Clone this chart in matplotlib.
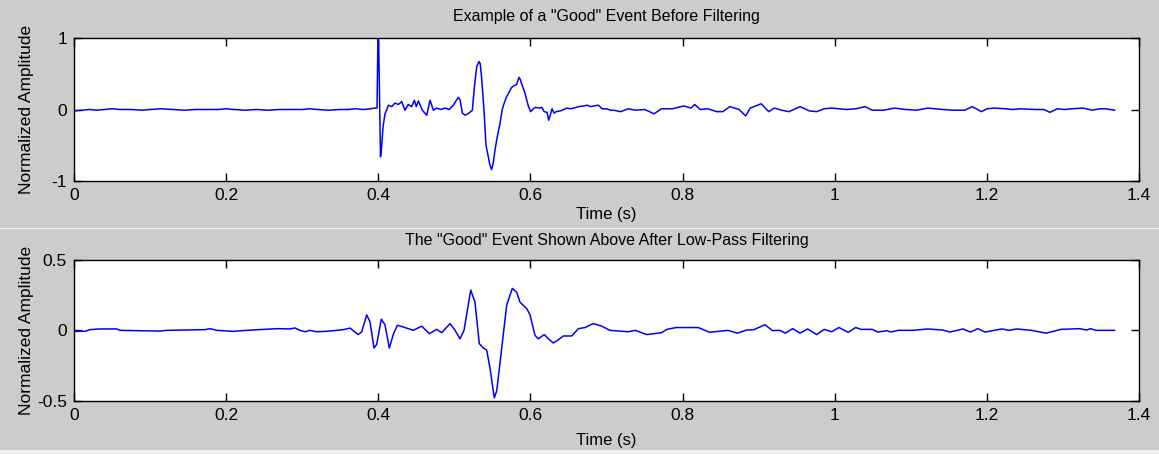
import matplotlib
matplotlib.use("Agg")
import matplotlib.pyplot as plt
from matplotlib.patches import Rectangle

plt.rcParams['font.family'] = ['Liberation Sans', 'DejaVu Sans']

# raw event
t_raw = [0.000, 0.010, 0.020, 0.030, 0.040, 0.050, 0.060, 0.075, 0.090, 0.100,
         0.115, 0.130, 0.145, 0.160, 0.175, 0.190, 0.200, 0.210, 0.225, 0.240,
         0.255, 0.270, 0.285, 0.300, 0.310, 0.320, 0.335, 0.350, 0.360, 0.370,
         0.380, 0.390, 0.395, 0.3983, 0.3996, 0.4005, 0.4016, 0.4029, 0.4042, 0.4062,
         0.4088, 0.4111, 0.4132, 0.4176, 0.4220, 0.4263, 0.4308, 0.4351, 0.4395, 0.4439,
         0.4474, 0.4500, 0.4527, 0.4579, 0.4637, 0.4680, 0.4724, 0.4768, 0.4820, 0.4877,
         0.4930, 0.4986, 0.5052, 0.5074, 0.5105, 0.5140, 0.5193, 0.5236, 0.5262, 0.5294,
         0.5324, 0.5340, 0.5357, 0.5389, 0.5416, 0.5446, 0.5468, 0.5490, 0.5511, 0.5534,
         0.5564, 0.5599, 0.5630, 0.5652, 0.5687, 0.5709, 0.5753, 0.5797, 0.5819, 0.5849,
         0.5866, 0.5884, 0.5928, 0.5972, 0.6002, 0.6037, 0.6067, 0.6115, 0.6150, 0.6180,
         0.6219, 0.6240, 0.6266, 0.6284, 0.6310, 0.6341, 0.6393, 0.6437, 0.6481, 0.6525,
         0.6569, 0.6635, 0.6700, 0.6749, 0.6788, 0.6832, 0.6895, 0.6942, 0.7007, 0.7051,
         0.7090, 0.7187, 0.7284, 0.7381, 0.7503, 0.7625, 0.7722, 0.7868, 0.8014, 0.8111,
         0.8159, 0.8232, 0.8329, 0.8451, 0.8530, 0.8621, 0.8743, 0.8830, 0.8889, 0.8962,
         0.9035, 0.9132, 0.9205, 0.9302, 0.9399, 0.9545, 0.9667, 0.9764, 0.9860, 0.9959,
         1.0060, 1.0154, 1.0280, 1.0397, 1.0494, 1.0640, 1.0786, 1.0932, 1.1078, 1.1224,
         1.1318, 1.1418, 1.1564, 1.1710, 1.1808, 1.1929, 1.2002, 1.2099, 1.2245, 1.2340,
         1.2440, 1.2634, 1.2750, 1.2828, 1.2926, 1.3020, 1.3120, 1.3266, 1.3388, 1.3480,
         1.3559, 1.3680]
a_raw = [-0.02, -0.01, 0.00, -0.01, 0.00, 0.01, 0.00, 0.00, -0.01, 0.00,
         0.01, 0.00, -0.01, 0.00, 0.00, 0.00, 0.01, 0.00, -0.01, 0.00,
         -0.01, 0.00, 0.00, 0.00, 0.01, 0.00, -0.01, 0.00, 0.00, 0.01,
         0.00, 0.01, 0.02, 0.02, 1.00, 0.95, 0.20, -0.66, -0.55, -0.25,
         -0.06, -0.01, 0.06, 0.04, 0.09, 0.07, 0.11, -0.01, 0.07, 0.04,
         0.13, 0.04, 0.12, -0.01, -0.08, 0.13, -0.01, 0.02, 0.00, 0.02,
         0.00, 0.06, 0.17, 0.14, -0.05, -0.08, -0.05, -0.01, 0.30, 0.60,
         0.67, 0.64, 0.46, 0.00, -0.50, -0.66, -0.78, -0.84, -0.75, -0.57,
         -0.38, -0.20, 0.00, 0.08, 0.18, 0.22, 0.31, 0.34, 0.35, 0.45,
         0.42, 0.36, 0.23, 0.05, -0.03, 0.01, 0.03, 0.02, 0.03, -0.03,
         -0.04, -0.15, -0.06, 0.01, -0.05, -0.03, -0.02, 0.00, 0.02, 0.01,
         0.02, 0.04, 0.05, 0.06, 0.04, 0.05, 0.06, 0.01, 0.01, -0.01,
         -0.01, -0.03, 0.01, -0.01, 0.00, -0.06, 0.01, 0.01, 0.05, 0.02,
         0.07, 0.00, 0.01, -0.03, -0.03, 0.04, 0.00, -0.09, 0.02, 0.05,
         0.08, -0.03, 0.02, -0.01, -0.03, 0.04, -0.02, -0.03, 0.01, 0.02,
         0.01, 0.00, 0.01, 0.04, -0.01, -0.01, 0.02, 0.00, -0.01, 0.02,
         0.01, 0.00, -0.01, -0.01, 0.04, -0.03, 0.01, 0.02, 0.01, 0.00,
         0.01, 0.00, 0.00, -0.04, 0.01, 0.00, 0.01, 0.02, -0.01, 0.01,
         0.01, -0.01]

# the same event after low-pass filtering (lower panel)
t_lp = [0.000, 0.0145, 0.0210, 0.0342, 0.0561, 0.0605, 0.1131, 0.1218, 0.1722, 0.1788,
        0.1876, 0.2094, 0.2270, 0.2665, 0.2839, 0.2905, 0.2971, 0.3037, 0.3102, 0.3190,
        0.3322, 0.3540, 0.3628, 0.3737, 0.3782, 0.3848, 0.3891, 0.3944, 0.3979, 0.4040,
        0.4088, 0.4145, 0.4197, 0.4250, 0.4329, 0.4460, 0.4571, 0.4671, 0.4768, 0.4834,
        0.4943, 0.5009, 0.5074, 0.5127, 0.5215, 0.5271, 0.5328, 0.5381, 0.5425, 0.5469,
        0.5525, 0.5557, 0.5622, 0.5688, 0.5762, 0.5820, 0.5863, 0.5951, 0.5995, 0.6060,
        0.6104, 0.6182, 0.6235, 0.6301, 0.6359, 0.6432, 0.6543, 0.6630, 0.6718, 0.6826,
        0.6937, 0.7046, 0.7284, 0.7381, 0.7527, 0.7722, 0.7794, 0.7916, 0.8208, 0.8354,
        0.8597, 0.8719, 0.8841, 0.8938, 0.9084, 0.9181, 0.9278, 0.9351, 0.9448, 0.9545,
        0.9643, 0.9764, 0.9862, 0.9959, 1.0056, 1.0177, 1.0275, 1.0348, 1.0494, 1.0566,
        1.0688, 1.0737, 1.0834, 1.1029, 1.1224, 1.1418, 1.1516, 1.1685, 1.1783, 1.1880,
        1.1977, 1.2197, 1.2294, 1.2391, 1.2586, 1.2779, 1.2974, 1.3217, 1.3314, 1.3363,
        1.3435, 1.3680]
a_lp = [-0.007, -0.007, 0.005, 0.010, 0.010, 0.000, -0.005, 0.000, 0.005, 0.012,
        0.000, -0.007, 0.000, 0.012, 0.010, 0.017, 0.000, -0.010, 0.000, -0.010,
        -0.007, 0.005, 0.016, -0.030, -0.010, 0.110, 0.060, -0.126, -0.100, 0.079,
        0.040, -0.126, -0.030, 0.036, 0.024, 0.000, 0.030, -0.024, 0.007, -0.017,
        0.048, 0.000, -0.060, 0.000, 0.286, 0.200, -0.095, -0.126, -0.140, -0.270,
        -0.480, -0.430, -0.130, 0.180, 0.298, 0.270, 0.200, 0.155, 0.110, -0.036,
        -0.060, -0.030, -0.060, -0.090, -0.070, -0.040, -0.040, 0.012, 0.020, 0.048,
        0.030, 0.000, -0.010, 0.000, -0.030, -0.017, 0.007, 0.020, 0.020, -0.014,
        0.000, -0.020, 0.002, 0.005, 0.040, -0.002, 0.000, -0.020, 0.012, -0.020,
        0.010, -0.030, 0.007, -0.010, 0.020, -0.014, 0.020, 0.007, 0.007, -0.012,
        -0.002, -0.012, 0.000, 0.000, 0.010, 0.002, -0.012, 0.010, -0.012, 0.012,
        -0.012, 0.010, 0.000, 0.010, 0.000, -0.020, 0.007, 0.012, 0.002, 0.012,
        0.000, 0.000]

titles = ['Example of a "Good" Event Before Filtering',
          'The "Good" Event Shown Above After Low-Pass Filtering']
ylims = [(-1, 1), (-0.5, 0.5)]
yticks = [[-1, 0, 1], [-0.5, 0, 0.5]]
yticklabels = [['-1', '0', '1'], ['-0.5', '0', '0.5']]
xticks = [0, 0.2, 0.4, 0.6, 0.8, 1.0, 1.2, 1.4]
xticklabels = ['0', '0.2', '0.4', '0.6', '0.8', '1', '1.2', '1.4']

W, H = 1159, 454
fig = plt.figure(figsize=(W / 100, H / 100), dpi=100, facecolor='#cccccc')

# two stacked figure windows: light separator line and light strip at bottom
fig.add_artist(Rectangle((0, 1 - 229 / H), 1, 1.5 / H, transform=fig.transFigure,
                         facecolor='#f0f0f0', edgecolor='none'))
fig.add_artist(Rectangle((0, 0), 1, 4.5 / H, transform=fig.transFigure,
                         facecolor='#f0f0f0', edgecolor='none'))

boxes = [(74, 38, 1139, 181), (74, 260, 1139, 400.7)]
title_y = [17, 241]
xlabel_y = [215, 440]
series = [(t_raw, a_raw), (t_lp, a_lp)]

for i in range(2):
    x0, y0, x1, y1 = boxes[i]
    ax = fig.add_axes([x0 / W, 1 - y1 / H, (x1 - x0) / W, (y1 - y0) / H])
    t, a = series[i]
    ax.plot(t, a, color='#0000ff', lw=1.1)
    ax.set_xlim(0, 1.4)
    ax.set_ylim(*ylims[i])
    ax.set_xticks(xticks)
    ax.set_xticklabels(xticklabels)
    ax.set_yticks(yticks[i])
    ax.set_yticklabels(yticklabels[i])
    ax.tick_params(direction='in', length=6, width=1, top=True, right=True,
                   labelsize=12.5, pad=5, colors='black')
    for s in ax.spines.values():
        s.set_linewidth(1)
        s.set_color('black')
    ax.set_ylabel('Normalized Amplitude', fontsize=12.5)
    ax.yaxis.set_label_coords((34 - x0) / (x1 - x0), 0.5)
    ax.set_xlabel('Time (s)', fontsize=12)
    ax.xaxis.set_label_coords(0.5, (y1 - xlabel_y[i]) / (y1 - y0))
    ax.xaxis.label.set_va('center')
    fig.text((x0 + x1) / 2 / W, 1 - title_y[i] / H, titles[i], ha='center',
             va='center', fontsize=11.5)

fig.savefig('out.png', dpi=100, facecolor=fig.get_facecolor())
